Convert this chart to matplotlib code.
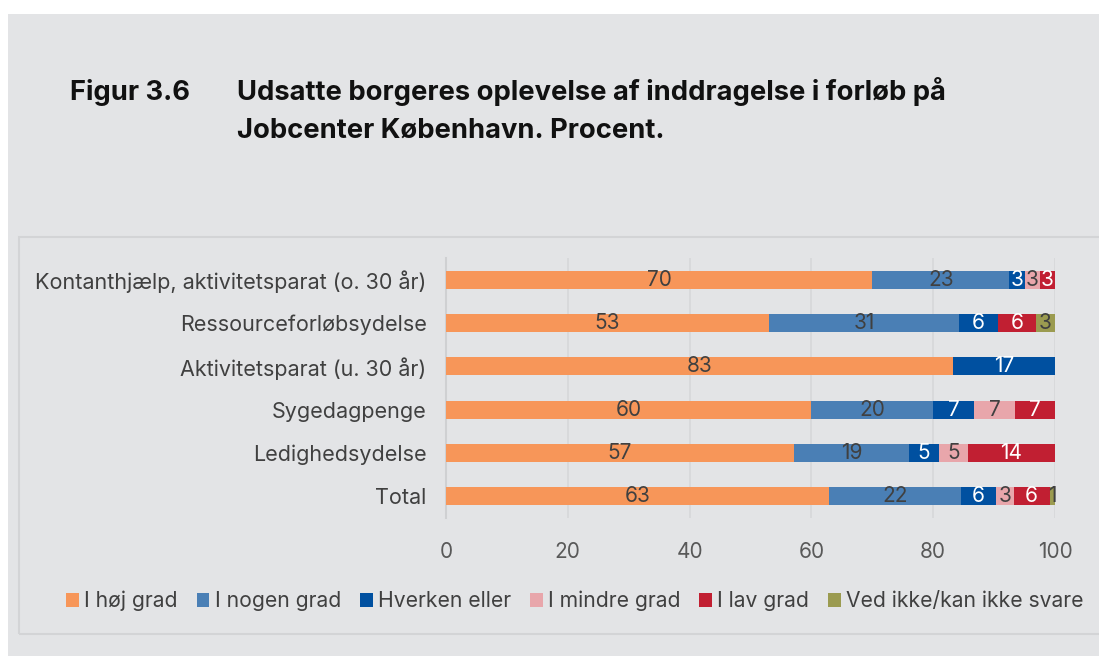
import matplotlib.pyplot as plt
from matplotlib.patches import Rectangle

plt.rcParams["font.family"] = ["Inter", "DejaVu Sans"]

categories = [
    "Kontanthjælp, aktivitetsparat (o. 30 år)",
    "Ressourceforløbsydelse",
    "Aktivitetsparat (u. 30 år)",
    "Sygedagpenge",
    "Ledighedsydelse",
    "Total",
]
series = ["I høj grad", "I nogen grad", "Hverken eller",
          "I mindre grad", "I lav grad", "Ved ikke/kan ikke svare"]

# shares (percent)
hoj = [70.0, 53.0, 83.3, 60.0, 57.1, 62.9]
nogen = [22.5, 31.3, 0.0, 20.0, 19.0, 21.6]
hverken = [2.5, 6.3, 16.7, 6.7, 4.8, 5.8]
mindre = [2.5, 0.0, 0.0, 6.7, 4.8, 2.9]
lav = [2.5, 6.3, 0.0, 6.6, 14.3, 5.9]
vedikke = [0.0, 3.1, 0.0, 0.0, 0.0, 0.9]

colors = ["#F79659", "#4A7FB5", "#0050A0", "#E8A6AB", "#C11F32", "#9B9B50"]
label_colors = ["#404040", "#404040", "white", "#404040", "white", "#404040"]
xticks = [0, 20, 40, 60, 80, 100]

W, H = 1099, 656
fig = plt.figure(figsize=(W / 100, H / 100), dpi=100)
fig.patch.set_facecolor("white")

# grey panel and chart box
fig.add_artist(Rectangle((8 / W, 0), 1, (H - 14) / H, transform=fig.transFigure,
                         facecolor="#E3E4E6", edgecolor="none", zorder=0))
fig.add_artist(Rectangle((19 / W, (H - 634) / H), 1.0, (634 - 237) / H,
                         transform=fig.transFigure, facecolor="none",
                         edgecolor="#D3D4D6", linewidth=1.5, zorder=0.5))

title_kw = dict(fontsize=19.7, fontweight="bold", color="#111111", va="center")
fig.text(70 / W, 1 - 92 / H, "Figur 3.6", **title_kw)
fig.text(237 / W, 1 - 92 / H,
         "Udsatte borgeres oplevelse af inddragelse i forløb på", **title_kw)
fig.text(237 / W, 1 - 131 / H, "Jobcenter København. Procent.", **title_kw)

ax = fig.add_axes([446 / W, (H - 518) / H, (1055 - 446) / W, (518 - 258) / H])
ax.set_facecolor("none")

ypos = list(range(len(categories)))
left = [0.0] * len(categories)
for vals, name, col, lcol in zip([hoj, nogen, hverken, mindre, lav, vedikke],
                                 series, colors, label_colors):
    bars = ax.barh(ypos, vals, left=left, height=0.42, color=col, label=name,
                   zorder=3)
    for b, v in zip(bars, vals):
        if v > 0:
            ax.text(b.get_x() + b.get_width() / 2, b.get_y() + b.get_height() / 2,
                    f"{int(v + 0.5)}", ha="center", va="center",
                    fontsize=15, color=lcol, zorder=4)
    left = [l + v for l, v in zip(left, vals)]

ax.set_xlim(0, 100)
ax.set_ylim(len(categories) - 0.5, -0.5)
ax.set_yticks(ypos)
ax.set_yticklabels(categories, fontsize=15.5, color="#404040")
ax.set_xticks(xticks)
ax.set_xticklabels([str(t) for t in xticks], fontsize=15, color="#595959")
ax.tick_params(length=0)
ax.tick_params(axis="y", pad=14)
ax.tick_params(axis="x", pad=17)
ax.grid(axis="x", color="#D6D7D9", linewidth=1.2, zorder=0)
for s in ["top", "right", "bottom"]:
    ax.spines[s].set_visible(False)
ax.spines["left"].set_color("#CFD0D2")
ax.spines["left"].set_linewidth(1.5)

fig.legend(loc="center", bbox_to_anchor=(575 / W, 55 / H), ncol=6,
           frameon=False, fontsize=15.2, handlelength=0.6, handleheight=0.6,
           handletextpad=0.25, columnspacing=0.9, labelcolor="#404040")

fig.savefig("out.png", dpi=100, facecolor=fig.get_facecolor())
